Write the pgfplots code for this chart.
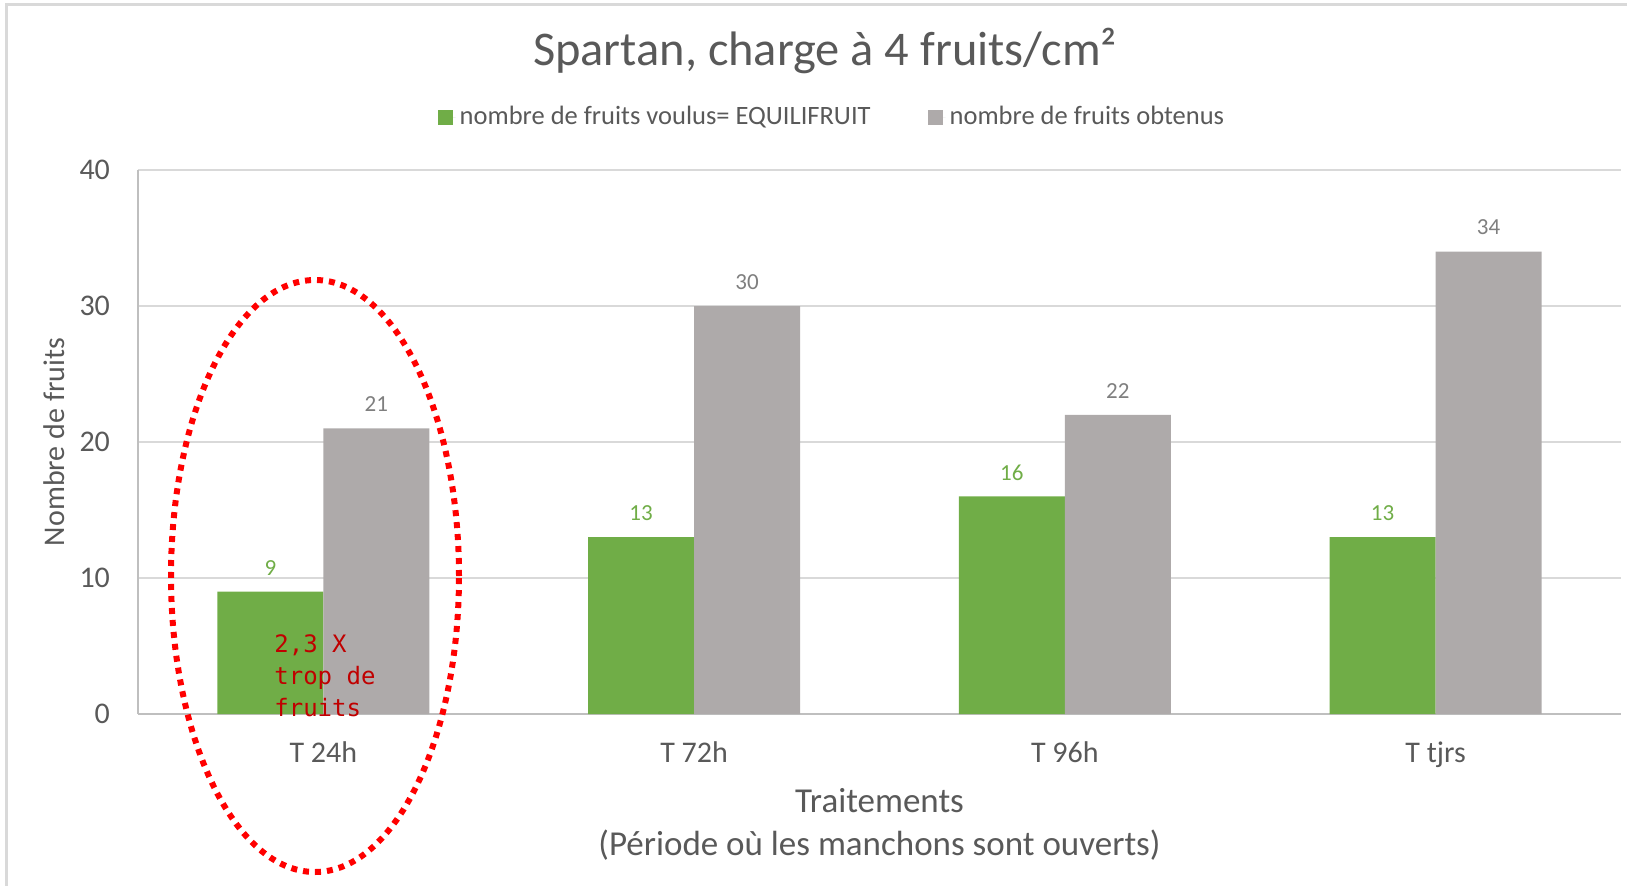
\documentclass[border=0pt]{standalone}
\usepackage{fontspec}
\setmainfont{Carlito}
\newfontfamily\monofont{DejaVu Sans Mono}
\usepackage{pgfplots}
\pgfplotsset{compat=1.18}
\definecolor{barGreen}{HTML}{70AD47}
\definecolor{barGray}{HTML}{AEAAAA}
\definecolor{textGray}{HTML}{595959}
\definecolor{labelGray}{HTML}{7F7F7F}
\definecolor{gridGray}{HTML}{D9D9D9}
\definecolor{axisGray}{HTML}{BFBFBF}
\definecolor{annotRed}{HTML}{C00000}
\begin{document}
\begin{tikzpicture}
\useasboundingbox (-69pt,-85.5pt) rectangle (744.5pt,357pt);
\draw[gridGray, line width=1.5pt] (-65.5pt,-86pt) -- (-65.5pt,354.5pt) -- (745pt,354.5pt);
\node[font=\fontsize{24.2}{28}\selectfont, text=textGray] at (343.5pt,331.5pt) {Spartan, charge à 4 fruits/cm²};
\begin{axis}[
  at={(0,0)}, anchor=south west,
  scale only axis, width=741.5pt, height=272pt,
  xmin=-0.5, xmax=3.5, ymin=0, ymax=40,
  ytick={0,10,20,30,40},
  xtick={0,1,2,3},
  xticklabels={T 24h, T 72h, T 96h, T tjrs},
  major tick length=0pt,
  ymajorgrids, grid style={gridGray, line width=0.75pt},
  axis x line*=bottom, axis y line*=left,
  axis line style={axisGray, line width=1pt, -},
  /pgf/number format/assume math mode=true,
  tick label style={font=\fontsize{15}{18}\selectfont, text=textGray},
  yticklabel style={xshift=-10.5pt},
  xticklabel style={anchor=base, yshift=-24.25pt},
  xlabel={Traitements\\(Période où les manchons sont ouverts)},
  xlabel style={align=center, font=\fontsize{17.5}{21.5}\selectfont, text=textGray, at={(axis description cs:0.5,0)}, anchor=center, yshift=-55pt},
  ylabel={Nombre de fruits},
  ylabel style={at={(axis description cs:-0.0566,0.5)}, anchor=center, font=\fontsize{15}{18}\selectfont, text=textGray},
  ybar, bar width=53pt,
  legend columns=2,
  legend style={draw=none, fill=none, at={(0.4686,1.0974)}, anchor=center, font=\fontsize{13.25}{15}\selectfont, text=textGray, /tikz/every even column/.append style={column sep=26.5pt}},
  legend image code/.code={\fill[#1] (0pt,-3.75pt) rectangle (7.5pt,3.75pt); \path (7.5pt,0pt) -- (9pt,0pt);},
  every node near coord/.append style={font=\fontsize{11.5}{13}\selectfont, anchor=center, yshift=12pt},
]
\addplot[fill=barGreen, draw=none, bar shift=-26.5pt, nodes near coords, every node near coord/.append style={text=barGreen}]
  coordinates {(0,9) (1,13) (2,16) (3,13)};
\addlegendentry{nombre de fruits voulus= EQUILIFRUIT}
\addplot[fill=barGray, draw=none, bar shift=26.5pt, nodes near coords, every node near coord/.append style={text=labelGray}]
  coordinates {(0,21) (1,30) (2,22) (3,34)};
\addlegendentry{nombre de fruits obtenus}
\end{axis}
\draw[red, line width=3pt, dash pattern=on 3pt off 3pt] (88.5pt,69pt) ellipse [x radius=72pt, y radius=148pt];
\node[anchor=north west, inner sep=0pt, align=left, text=annotRed, font=\monofont\fontsize{12}{16}\selectfont] at (68pt,40pt) {2,3 X\\trop de\\fruits};
\end{tikzpicture}
\end{document}
